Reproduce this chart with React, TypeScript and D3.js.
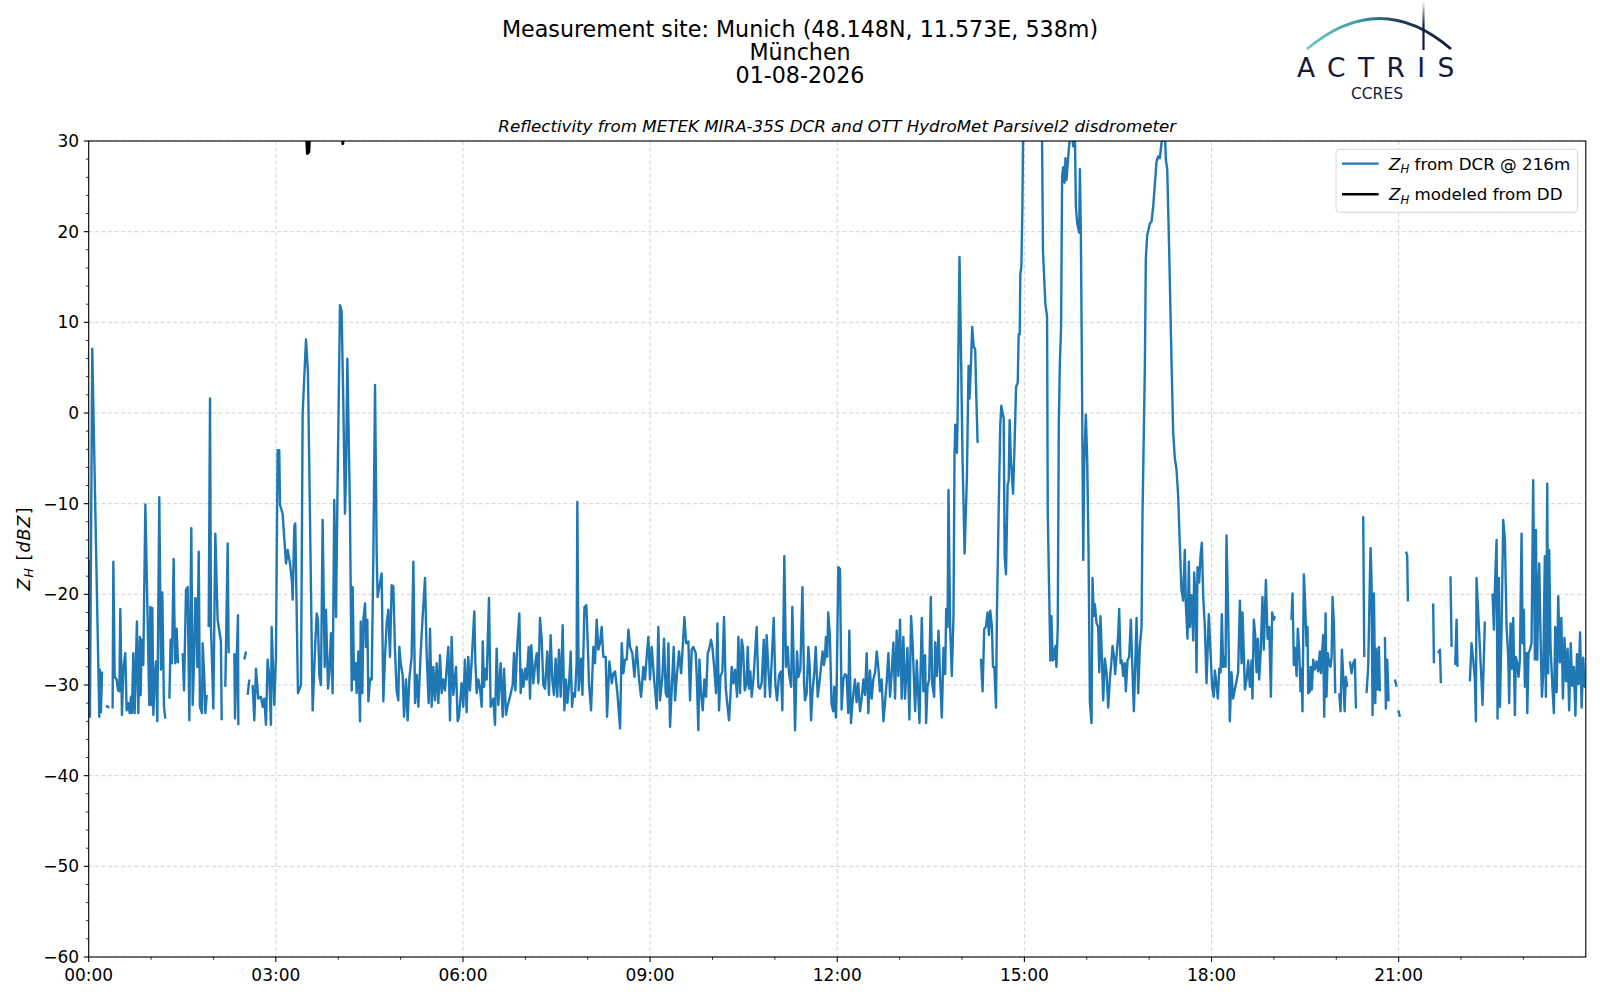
import * as d3 from "d3";
import React from "react";

// x axis: minutes since 00:00 UTC
const X_MAJOR_MIN = [0, 180, 360, 540, 720, 900, 1080, 1260];
const X_TICK_LABELS = ["00:00", "03:00", "06:00", "09:00", "12:00", "15:00", "18:00", "21:00"];
const Y_MAJOR = [-60, -50, -40, -30, -20, -10, 0, 10, 20, 30];

// Z_H from DCR @ 216m, [minute, dBZ] (null = no data)
const DCR_ZH: [number, number | null][] = [
  [0, -16.2], [1.2, -33.5], [3.4, 7.1], [10.2, -33.5], [10.6, -28.3], [11.8, -33.0], [12.8, -28.5], [13.5, null],
  [16.6, -32.3], [19.8, -32.5], [21, null],
  [23.0, -32.6], [23.7, -16.4], [25.0, -29.1], [26.9, -29.4], [28.2, -30.6], [29.5, -30.7], [30.4, -21.6], [32.0, -33.3],
  [33.3, -28.2], [35.2, -26.5], [36.5, -32.8], [38.1, -32.0], [39.4, -33.1], [40.7, -31.3], [41.6, -33.1], [42.9, -26.5],
  [44.2, -33.1], [46.4, -23.0], [47.7, -33.1], [49.3, -24.7], [50.0, -31.1], [50.9, -25.0], [52.5, -27.8], [54.5, -10.1],
  [58.3, -32.2], [59.3, -21.4], [60.6, -32.2], [61.2, -21.5], [62.2, -33.3], [63.4, -29.4], [64.7, -27.4], [66.0, -34.0],
  [67.9, -9.3], [69.5, -28.3], [70.8, -19.8], [72.4, -32.4], [73.7, -33.7], [75, null],
  [77.6, -31.5], [78.8, -25.0], [80.1, -27.6], [81.7, -16.1], [82.4, -22.3], [83.3, -27.6], [84.6, -23.8], [85.9, -27.6], [87, null],
  [90.4, -26.5], [91.7, -30.6], [93.6, -19.5], [95.2, -19.2], [96.8, -33.9], [98.7, -12.7], [100.0, -32.2], [101.3, -27.6],
  [102.6, -20.4], [103.5, -20.6], [104.5, -28.0], [105.8, -15.3], [107.0, -32.4], [109.0, -33.1], [109.6, -25.4],
  [111.2, -29.1], [112.2, -33.1], [113.5, -31.1], [114.3, null],
  [115.4, -23.6], [116.7, 1.6], [117.6, -23.6], [119.9, -32.6], [121.8, -13.3], [124.0, -22.8], [127.2, -25.2], [127.9, -33.9], [129, null],
  [131.4, -30.2], [133.7, -14.4], [134.6, -26.5], [136, null],
  [140.1, -26.5], [140.7, -33.7], [142.6, -26.1], [143.6, -22.3], [143.9, -34.4], [145, null],
  [149.7, -27.2], [151.3, -26.3], [152, null],
  [152.9, -31.1], [154.5, -29.4], [155.5, null],
  [157.7, -30.0], [159.3, -33.9], [160.9, -28.2], [163.1, -31.5], [165.7, -31.3], [167.3, -32.4], [168.9, -31.5],
  [170.5, -34.4], [172.1, -27.2], [173.7, -29.1], [175.3, -34.4], [176.0, -23.6], [178.5, -32.2], [180.1, -26.9],
  [181.7, -4.1], [183.3, -4.1], [184.0, -10.1], [186.5, -11.1], [189.8, -16.6], [191.4, -15.1], [193.6, -16.6],
  [195.5, -18.6], [196.2, -20.6], [197.8, -12.4], [198.7, -12.2], [201.3, -30.9], [204.2, -30.0], [205.8, 0.0],
  [209.0, 8.1], [210.9, 4.4], [212.8, -11.1], [215.4, -32.8], [218.0, -25.2], [219.3, -22.1], [220.5, -22.8],
  [221.8, -28.9], [223.4, -30.0], [225.0, -11.8], [227.0, -28.0], [228.2, -21.7], [230.2, -30.4], [231.4, -28.7],
  [233.0, -24.3], [234.6, -30.9], [236.2, -9.6], [237.9, -22.5], [239.2, -9.6], [241.7, 11.9], [243.3, 11.2],
  [244.9, 1.1], [246.5, -11.1], [247.5, -6.7], [248.8, 6.0], [250.7, -6.7], [251.3, -11.1], [253.0, -30.6],
  [253.9, -19.2], [255.2, -29.4], [256.8, -27.6], [257.7, -30.9], [259.4, -26.3], [261.0, -34.0], [261.6, -23.0],
  [263.2, -30.9], [264.2, -22.8], [265.8, -21.0], [266.7, -25.8], [268.0, -22.8], [269.0, -31.8], [270.6, -29.3],
  [272.2, -29.4], [273.8, -15.8], [275.4, 3.1], [277.0, -15.5], [277.9, -20.3], [279.5, -19.2], [281.8, -17.7],
  [283.4, -31.8], [285.0, -26.9], [286.6, -23.2], [288.2, -21.7], [289.8, -26.9], [291.4, -19.0], [293.0, -19.1],
  [294.6, -26.1], [296.2, -30.6], [297.8, -31.7], [298.8, -25.8], [300.1, -27.6], [302.0, -28.9], [303.3, -33.5],
  [305.2, -29.4], [306.8, -33.9], [308.4, -29.3], [310.6, -26.9], [312.3, -16.4], [313.9, -32.0], [315.5, -28.9],
  [317.1, -32.4], [319.3, -26.5], [321.2, -22.5], [323.5, -18.2], [325.1, -26.7], [327.0, -32.0], [328.3, -23.8],
  [329.9, -32.4], [331.5, -28.0], [333.1, -31.7], [334.7, -27.6], [336.3, -32.0], [337.9, -26.7], [339.5, -30.9],
  [341.1, -29.4], [342.7, -30.6], [345.9, -25.8], [347.5, -33.9], [349.1, -24.7], [350.7, -31.1], [353.3, -28.0],
  [354.9, -34.0], [356.2, -33.5], [358.7, -29.8], [360.3, -32.4], [361.9, -27.2], [363.5, -33.0], [365.1, -26.9],
  [366.7, -30.6], [369.0, -26.1], [370.9, -21.9], [371.9, -27.4], [373.2, -30.9], [374.8, -29.4], [376.4, -30.4],
  [378.0, -32.4], [379.0, -25.2], [380.2, -30.2], [381.5, -28.2], [382.8, -29.4], [385.0, -20.4], [386.6, -32.4],
  [389.2, -31.5], [390.8, -34.4], [392.4, -26.0], [394.0, -32.2], [396.2, -27.6], [398.2, -33.5], [399.5, -28.2],
  [401.4, -33.3], [402.7, -32.4], [405.2, -31.3], [407.8, -30.0], [409.1, -26.5], [410.4, -30.6], [412.3, -25.4],
  [414.2, -22.1], [415.5, -30.9], [416.8, -28.3], [418.1, -30.2], [420.0, -28.2], [421.3, -29.4], [423.2, -25.8],
  [424.5, -31.5], [425.7, -25.6], [427.7, -29.8], [429.3, -27.8], [430.9, -26.5], [432.5, -29.8], [434.1, -22.6],
  [435.7, -25.0], [437.3, -30.0], [438.9, -30.4], [441.1, -26.3], [442.7, -31.1], [444.3, -24.5], [445.9, -29.4],
  [447.5, -31.1], [449.1, -27.1], [450.7, -31.3], [452.3, -26.1], [454.0, -31.3], [455.9, -23.4], [457.5, -32.8],
  [459.1, -29.4], [460.4, -32.0], [462.0, -30.0], [463.6, -26.3], [464.9, -32.4], [466.1, -30.9], [467.7, -31.3],
  [469.3, -27.6], [470.0, -9.8], [471.3, -30.6], [473.6, -27.1], [474.9, -31.1], [476.8, -21.4], [478.7, -21.2],
  [480.0, -25.4], [481.3, -30.0], [483.2, -32.8], [485.4, -25.8], [487.0, -27.6], [488.6, -22.8], [490.2, -26.1],
  [491.8, -25.4], [493.4, -23.6], [495.0, -26.9], [497.3, -26.9], [498.6, -33.5], [500.8, -27.4], [503.1, -29.8],
  [504.7, -28.7], [506.3, -28.5], [508.5, -30.9], [511.1, -34.8], [512.7, -25.4], [514.3, -28.7], [515.9, -27.2],
  [517.5, -27.2], [519.1, -23.9], [520.7, -25.8], [522.9, -26.5], [524.9, -29.1], [527.1, -25.8], [529.4, -29.4],
  [531.3, -31.3], [533.5, -28.0], [535.1, -29.4], [536.7, -26.9], [538.3, -24.7], [539.9, -29.4], [541.5, -25.8],
  [543.8, -29.3], [546.3, -32.6], [547.9, -23.6], [549.5, -31.7], [551.8, -29.1], [553.4, -24.9], [555.0, -30.9],
  [556.3, -31.3], [557.6, -25.4], [559.2, -34.6], [560.8, -30.4], [562.7, -25.8], [564.0, -31.7], [565.6, -29.1],
  [567.8, -26.3], [569.8, -28.7], [571.0, -26.5], [573.0, -22.5], [574.6, -25.4], [576.8, -25.2], [578.4, -31.7],
  [580.0, -26.1], [581.6, -25.8], [583.9, -26.5], [585.1, -29.8], [586.4, -35.0], [587.4, -27.2], [589.0, -30.9],
  [590.6, -32.8], [592.2, -29.4], [593.8, -31.3], [595.4, -26.5], [596.7, -26.1], [598.6, -25.0], [599.9, -25.8],
  [601.8, -28.3], [603.4, -30.9], [604.7, -23.2], [606.3, -32.8], [607.6, -29.1], [609.5, -28.5], [611.1, -22.5],
  [612.7, -30.2], [613.7, -31.5], [615.9, -33.9], [617.2, -31.3], [618.5, -28.0], [620.1, -29.8], [621.7, -28.3],
  [623.6, -31.3], [624.9, -24.7], [626.5, -30.9], [628.1, -25.0], [629.4, -26.0], [631.0, -30.6], [632.6, -30.0],
  [633.9, -25.8], [635.2, -30.4], [636.4, -28.5], [637.7, -31.3], [639.6, -29.1], [640.9, -26.5], [642.5, -23.6],
  [644.1, -30.2], [645.7, -30.4], [647.3, -29.8], [649.3, -25.0], [650.5, -31.3], [652.1, -24.5], [653.7, -28.2],
  [655.4, -31.3], [657.0, -27.2], [658.9, -22.6], [660.5, -30.0], [662.1, -31.7], [664.0, -28.9], [665.9, -28.5],
  [667.2, -32.8], [669.1, -15.8], [670.7, -28.0], [672.3, -25.8], [673.6, -28.7], [675.6, -30.2], [676.8, -21.4],
  [678.1, -27.6], [679.4, -35.0], [681.3, -26.3], [682.6, -29.1], [684.5, -28.3], [686.5, -19.2], [688.1, -29.8],
  [689.0, -31.7], [690.6, -30.9], [692.2, -25.8], [693.5, -28.0], [694.8, -33.9], [696.1, -30.9], [698.0, -28.5],
  [699.3, -25.8], [701.2, -31.3], [702.8, -29.8], [705.9, -26.3], [707.1, -27.8], [708.1, -27.1], [709.1, -24.7],
  [710.4, -26.9], [711.3, -22.0], [712.9, -24.5], [714.5, -32.1], [716.1, -32.9], [717.1, -30.2], [718.7, -33.6],
  [719.4, -30.7], [721.0, -17.0], [722.6, -17.2], [724.2, -32.7], [725.8, -29.4], [727.4, -28.8], [729.0, -29.0],
  [730.6, -33.1], [731.6, -24.0], [733.2, -34.2], [734.5, -32.1], [737.0, -29.4], [738.6, -31.9], [740.2, -29.8],
  [741.9, -32.9], [743.5, -31.5], [745.1, -29.4], [746.7, -31.1], [748.3, -26.5], [749.9, -33.1], [751.5, -28.4],
  [753.1, -31.5], [754.7, -29.4], [756.4, -28.6], [758.0, -26.3], [759.6, -28.2], [761.1, -30.7], [762.7, -29.4],
  [764.4, -34.0], [766.0, -31.9], [767.6, -29.6], [769.2, -26.5], [770.8, -31.3], [772.4, -28.6], [774.0, -25.3],
  [775.6, -31.5], [777.2, -24.0], [778.8, -29.0], [780.4, -22.8], [782.0, -31.5], [783.6, -24.7], [785.2, -31.5],
  [787.5, -25.9], [789.4, -33.8], [791.0, -22.4], [792.6, -25.7], [794.9, -32.9], [796.5, -27.3], [799.1, -34.2],
  [801.3, -22.6], [802.9, -30.7], [804.5, -26.7], [805.5, -34.2], [806.8, -30.2], [808.4, -29.4], [810.0, -20.3],
  [811.3, -29.8], [813.2, -31.3], [814.2, -25.3], [815.8, -29.0], [817.4, -24.0], [819.0, -29.4], [820.6, -33.6],
  [822.2, -25.9], [823.8, -28.8], [824.8, -21.6], [826.1, -23.6], [827.0, -8.5], [828.6, -23.6], [830.2, -29.0],
  [831.8, -22.4], [832.8, -4.6], [833.5, -1.3], [835.1, -4.4], [835.7, -1.1], [837.6, 17.2], [838.9, 7.8],
  [840.5, -5.0], [842.5, -15.5], [844.7, -7.1], [846.3, 5.2], [847.3, 1.6], [848.6, 5.4], [849.8, 9.5],
  [851.1, 7.4], [852.7, 7.0], [853.7, 2.0], [855.0, -3.3], [856.5, null],
  [858.2, -27.1], [859.8, -30.7], [861.4, -23.8], [863.0, -23.6], [864.6, -22.0], [865.9, -24.5], [867.2, -21.8],
  [868.8, -23.6], [869.8, -28.0], [871.1, -28.0], [872.7, -32.5], [873.6, -22.0], [875.2, -11.2], [876.8, -1.3],
  [877.8, 0.8], [880.1, -0.6], [881.0, -15.8], [882.3, -17.8], [883.9, -7.9], [884.9, -7.5], [885.8, -0.8],
  [887.1, -5.4], [889.1, -8.9], [890.7, -2.9], [892.0, 2.9], [893.6, 3.3], [894.5, 8.7], [895.5, 8.7],
  [896.1, 15.3], [897.1, 16.1], [898.1, 22.8], [898.7, 30.0], [903, 38], [910, 40], [914, 36], [917.0, 30.0],
  [917.9, 17.8], [920.2, 12.0], [921.8, 10.7], [922.5, -11.2], [923.8, -19.5], [925.0, -27.3], [926.0, -22.4],
  [927.3, -27.3], [928.3, -26.1], [928.9, -27.1], [929.9, -25.7], [930.8, -28.0], [932.1, -23.6], [933.1, -1.3],
  [934.1, 5.4], [935.3, 9.5], [936.3, 26.1], [937.3, 27.1], [938.6, 25.4], [939.5, 28.1], [940.5, 25.7],
  [941.8, 27.7], [942.7, 29.0], [944.3, 31], [945.4, 31], [947.0, 29.4], [948.6, 31], [949.5, 22.8],
  [950.8, 20.9], [952.7, 19.9], [953.4, 26.9], [954.3, 20.1], [955.3, 5.4], [956.6, -16.2], [957.5, -6.2],
  [959.1, -0.2], [960.4, -5.0], [961.7, -15.3], [963.0, -31.9], [964.6, -34.2], [965.5, -18.2], [966.8, -22.4],
  [967.8, -21.1], [969.4, -23.2], [971.0, -23.6], [972.0, -28.6], [973.2, -22.4], [974.2, -25.7], [975.8, -31.7],
  [977.4, -27.1], [979.0, -28.6], [980.6, -32.5], [982.2, -29.4], [983.8, -27.3], [984.8, -25.7], [986.4, -27.1],
  [987.3, -28.8], [988.6, -26.9], [990.2, -24.5], [991.2, -21.6], [992.5, -27.6], [993.8, -27.3], [995.0, -29.0],
  [996.6, -27.6], [997.6, -30.7], [999.2, -27.3], [1000.8, -26.9], [1002.4, -22.8], [1004.0, -28.6], [1005.3, -32.9],
  [1007.9, -22.6], [1009.5, -30.9], [1011.1, -25.7], [1012.7, -23.6], [1013.6, -11.2], [1014.9, -2.1], [1015.9, 5.4],
  [1016.8, 17.0], [1018.1, 19.6], [1020.7, 20.9], [1022.3, 21.1], [1023.9, 22.8], [1025.5, 25.2], [1027.1, 27.7],
  [1028.7, 28.3], [1030.3, 28.1], [1031.9, 29.8], [1033.5, 30.5], [1034.8, 32], [1036.1, 27.9], [1037.4, 26.9],
  [1039.3, 17.8], [1041.5, 5.8], [1043.1, -2.1], [1044.7, -5.0], [1046.3, -6.2], [1047.9, -9.1], [1049.5, -14.5],
  [1051.1, -19.5], [1052.7, -20.7], [1054.3, -15.1], [1055.3, -21.1], [1056.9, -24.9], [1058.2, -16.4], [1059.2, -23.6],
  [1060.8, -20.1], [1062.4, -25.1], [1063.3, -17.6], [1064.6, -20.1], [1065.6, -28.6], [1066.5, -17.0], [1068.1, -18.7],
  [1069.4, -15.8], [1070.7, -14.3], [1072.0, -20.3], [1073.6, -23.6], [1075.2, -29.8], [1077.4, -22.2], [1079.0, -26.3],
  [1080.6, -30.2], [1082.2, -31.3], [1083.2, -28.4], [1084.8, -30.0], [1086.1, -31.5], [1087.4, -28.2], [1088.7, -28.6],
  [1089.9, -22.2], [1091.2, -28.0], [1092.2, -26.9], [1093.5, -28.0], [1094.4, -13.5], [1096.0, -22.2], [1097.6, -34.0],
  [1099.2, -28.6], [1100.8, -31.5], [1102.4, -30.5], [1104.0, -29.6], [1105.6, -28.6], [1107.3, -20.7], [1108.9, -27.6],
  [1109.8, -22.0], [1112.1, -30.5], [1113.7, -29.4], [1115.3, -27.3], [1116.9, -30.2], [1118.5, -27.3], [1119.4, -31.5],
  [1120.7, -22.8], [1122.0, -24.5], [1123.3, -28.6], [1124.6, -24.9], [1125.8, -29.4], [1127.4, -26.1], [1129.0, -20.3],
  [1130.3, -26.1], [1132.3, -18.4], [1133.9, -24.9], [1135.5, -23.6], [1137.1, -31.3], [1138.3, -22.0], [1140.0, -22.8],
  [1141.0, -22.4], [1142, null],
  [1156.9, -22.8], [1157.9, -19.9], [1159.2, -27.8], [1160.5, -25.9], [1161.8, -29.0], [1163.0, -23.8], [1164.3, -26.1],
  [1165.6, -30.7], [1166.6, -28.2], [1167.5, -32.9], [1168.8, -17.8], [1169.8, -20.3], [1171.4, -25.7], [1172.3, -23.6],
  [1173.0, -30.9], [1174.6, -30.7], [1175.3, -28.0], [1176.5, -30.5], [1177.8, -27.2], [1179.4, -28.3], [1181.0, -27.4],
  [1182.6, -28.5], [1184.2, -26.3], [1185.2, -28.7], [1187.4, -24.5], [1188.4, -33.5], [1189.7, -22.1], [1190.6, -31.3],
  [1191.9, -26.5], [1193.2, -27.6], [1194.5, -28.0], [1195.5, -26.9], [1196.4, -20.3], [1197.7, -23.2], [1199.0, -30.9], [1200, null],
  [1202.8, -30.9], [1204.1, -32.9], [1205.4, -26.1], [1206.7, -29.1], [1208.0, -32.9], [1209.2, -29.1], [1210.5, -30.2], [1211.5, null],
  [1213.1, -27.4], [1214.7, -28.7], [1216.3, -27.6], [1217.9, -27.2], [1218.9, -32.6], [1220, null],
  [1225.9, -11.4], [1226.9, -26.9], [1228, null],
  [1229.1, -30.9], [1230.7, -28.0], [1232.3, -18.4], [1233.0, -14.9], [1233.9, -18.4], [1234.9, -33.3], [1236.2, -19.9],
  [1237.5, -32.0], [1238.4, -26.0], [1239.7, -30.5], [1241.0, -25.8], [1241.9, -30.7], [1243, null],
  [1246.8, -24.7], [1247.7, -32.6], [1249.0, -27.2], [1250.3, -31.8], [1251.5, null],
  [1256.4, -29.4], [1258.0, -30.2], [1258.8, null],
  [1259.6, -32.8], [1261.2, -33.5], [1262, null],
  [1267.0, -15.3], [1268.2, -15.7], [1268.9, -20.8], [1270, null],
  [1293.2, -21.0], [1293.9, -27.6], [1295, null],
  [1298.0, -26.5], [1299.7, -26.1], [1300.6, -29.8], [1302, null],
  [1309.9, -18.0], [1310.9, -25.8], [1312, null],
  [1314.4, -27.8], [1315.7, -22.8], [1316.6, -28.0], [1318, null],
  [1328.5, -29.6], [1330.1, -25.4], [1331.7, -27.2], [1333.3, -29.3], [1334.3, -34.0], [1334.9, -18.2], [1339.7, -29.6],
  [1340.7, -32.2], [1342.9, -23.0], [1344, null],
  [1350.3, -19.9], [1351.6, -23.9], [1352.9, -18.0], [1354.2, -14.0], [1355.1, -33.7], [1356.4, -18.2], [1357.4, -32.4],
  [1359.0, -23.6], [1360.6, -11.8], [1362.2, -14.0], [1363.8, -23.6], [1365.4, -26.9], [1366.3, -32.0], [1367.6, -23.2],
  [1368.9, -28.2], [1370.2, -22.6], [1371.8, -33.3], [1372.7, -26.9], [1374.0, -27.6], [1375.3, -29.1], [1376.6, -27.2],
  [1378.2, -13.3], [1379.2, -25.4], [1380.4, -21.7], [1381.4, -30.2], [1383.0, -26.5], [1383.7, -33.1], [1384.9, -26.5],
  [1386.2, -26.1], [1387.8, -25.4], [1389.4, -7.4], [1391.0, -27.2], [1392.0, -12.9], [1393.3, -27.2], [1394.2, -20.3],
  [1395.2, -16.6], [1396.5, -25.0], [1397.8, -31.3], [1399.0, -28.9], [1400.6, -15.8], [1401.6, -31.3], [1402.9, -7.8],
  [1403.8, -28.7], [1404.8, -15.1], [1406.1, -25.8], [1407.1, -28.3], [1408.0, -30.5], [1409.3, -33.1], [1410.6, -23.6],
  [1412, -30.8], [1413.5, -20.2], [1415, -27.5], [1416.5, -22.6], [1418, -31.5], [1419.5, -24.8], [1421, -29.6],
  [1422.5, -26.0], [1424, -32.8], [1425.5, -25.4], [1427, -30.1], [1428.5, -28.0], [1430, -33.4], [1431.5, -26.6],
  [1433, -29.9], [1434.5, -24.2], [1436, -32.5], [1437.5, -27.0], [1439, -30.2], [1440, -29.5],
];

// Z_H modeled from DD (mostly above the plotted range)
const DD_ZH: [number, number | null][] = [
  [209.3, 31], [210.3, 28.6], [211.8, 28.8], [212.8, 31], [214, null],
  [243.3, 31], [244.4, 29.7], [245.5, 31],
];

const TITLE_LINES = ["Measurement site: Munich (48.148N, 11.573E, 538m)", "München", "01-08-2026"];
const SUBTITLE = "Reflectivity from METEK MIRA-35S DCR and OTT HydroMet Parsivel2 disdrometer";

const W = 1600;
const H = 1000;
const PLOT = { left: 88.7, right: 1585.8, top: 141, bottom: 957 };
const FONT = "'DejaVu Sans', sans-serif";
const BLUE = "#1f77b4";
const NAVY = "#141a3c";

const fmtY = (v: number) => (v < 0 ? `\u2212${Math.abs(v)}` : `${v}`);

export default function App() {
  const x = d3.scaleLinear().domain([0, 1440]).range([PLOT.left, PLOT.right]);
  const y = d3.scaleLinear().domain([-60, 30]).range([PLOT.bottom, PLOT.top]);

  const line = d3
    .line<[number, number | null]>()
    .defined((d) => d[1] !== null)
    .x((d) => x(d[0]))
    .y((d) => y(d[1] as number));

  const xMinor = d3.range(0, 1441, 60).filter((m) => m % 180 !== 0);
  const yMinor = d3.range(-60, 31, 2).filter((v) => v % 10 !== 0);

  return (
    <div style={{ position: "absolute", left: 0, top: 0 }}>
      <svg width={W} height={H} viewBox={`0 0 ${W} ${H}`} style={{ display: "block", background: "#fff" }}>
        <defs>
          <clipPath id="plot-clip">
            <rect x={PLOT.left} y={PLOT.top} width={PLOT.right - PLOT.left} height={PLOT.bottom - PLOT.top} />
          </clipPath>
          <linearGradient id="arc-grad" gradientUnits="userSpaceOnUse" x1={1307} y1={0} x2={1452} y2={0}>
            <stop offset="0" stopColor="#74c8c6" />
            <stop offset="0.35" stopColor="#3b9ea6" />
            <stop offset="0.65" stopColor="#1d3e5c" />
            <stop offset="1" stopColor={NAVY} />
          </linearGradient>
          <linearGradient id="mast-grad" gradientUnits="userSpaceOnUse" x1={0} y1={1} x2={0} y2={50}>
            <stop offset="0" stopColor="#ffffff" />
            <stop offset="0.5" stopColor={NAVY} />
            <stop offset="1" stopColor={NAVY} />
          </linearGradient>
        </defs>

        {/* titles */}
        <g fontFamily={FONT} fontSize={22.2} textAnchor="middle" fill="#000">
          {TITLE_LINES.map((t, i) => (
            <text key={t} x={800} y={36.5 + i * 23}>{t}</text>
          ))}
        </g>
        <text x={(PLOT.left + PLOT.right) / 2} y={132} fontFamily={FONT} fontSize={16.7} fontStyle="italic" textAnchor="middle">
          {SUBTITLE}
        </text>

        {/* logo */}
        <g>
          <path d="M1307,49 Q1380,-12 1451,49" fill="none" stroke="url(#arc-grad)" strokeWidth={2.8} />
          <line x1={1423.5} x2={1423.5} y1={1} y2={50} stroke="url(#mast-grad)" strokeWidth={2.2} />
          <text x={1297} y={77} fontFamily={FONT} fontSize={26.5} letterSpacing={12.4} fill={NAVY}>ACTRIS</text>
          <text x={1377} y={99} fontFamily={FONT} fontSize={15.5} textAnchor="middle" fill={NAVY}>CCRES</text>
        </g>

        {/* grid */}
        <g stroke="#cfcfcf" strokeWidth={0.9} strokeDasharray="4,2.5">
          {X_MAJOR_MIN.map((m) => (
            <line key={`gx${m}`} x1={x(m)} x2={x(m)} y1={PLOT.top} y2={PLOT.bottom} />
          ))}
          {Y_MAJOR.map((v) => (
            <line key={`gy${v}`} x1={PLOT.left} x2={PLOT.right} y1={y(v)} y2={y(v)} />
          ))}
        </g>

        {/* data */}
        <g clipPath="url(#plot-clip)" fill="none" strokeLinejoin="round" strokeLinecap="butt">
          <path d={line(DCR_ZH) ?? ""} stroke={BLUE} strokeWidth={2.4} />
          <path d={line(DD_ZH) ?? ""} stroke="#000" strokeWidth={2.8} />
        </g>

        {/* spines */}
        <rect x={PLOT.left} y={PLOT.top} width={PLOT.right - PLOT.left} height={PLOT.bottom - PLOT.top} fill="none" stroke="#000" strokeWidth={1.1} />

        {/* ticks */}
        <g stroke="#000" strokeWidth={1.1}>
          {X_MAJOR_MIN.map((m) => (
            <line key={`tx${m}`} x1={x(m)} x2={x(m)} y1={PLOT.bottom} y2={PLOT.bottom + 4.9} />
          ))}
          {xMinor.map((m) => (
            <line key={`mx${m}`} x1={x(m)} x2={x(m)} y1={PLOT.bottom} y2={PLOT.bottom + 2.8} strokeWidth={0.8} />
          ))}
          {Y_MAJOR.map((v) => (
            <line key={`ty${v}`} x1={PLOT.left - 4.9} x2={PLOT.left} y1={y(v)} y2={y(v)} />
          ))}
          {yMinor.map((v) => (
            <line key={`my${v}`} x1={PLOT.left - 2.8} x2={PLOT.left} y1={y(v)} y2={y(v)} strokeWidth={0.8} />
          ))}
        </g>
        <g fontFamily={FONT} fontSize={17} fill="#000">
          {X_MAJOR_MIN.map((m, i) => (
            <text key={`lx${m}`} x={x(m)} y={PLOT.bottom + 23.5} textAnchor="middle">{X_TICK_LABELS[i]}</text>
          ))}
          {Y_MAJOR.map((v) => (
            <text key={`ly${v}`} x={PLOT.left - 9.5} y={y(v)} dy="0.36em" textAnchor="end">{fmtY(v)}</text>
          ))}
        </g>

        {/* y label */}
        <text
          transform={`translate(29.5,${(PLOT.top + PLOT.bottom) / 2}) rotate(-90)`}
          fontFamily={FONT}
          fontSize={17.5}
          textAnchor="middle"
          textLength={83}
          lengthAdjust="spacing"
        >
          <tspan fontStyle="italic">Z</tspan>
          <tspan fontStyle="italic" fontSize={12.3} dy={3.5}>H</tspan>
          <tspan dy={-3.5}> [</tspan>
          <tspan fontStyle="italic">dBZ</tspan>
          <tspan>]</tspan>
        </text>

        {/* legend */}
        <g fontFamily={FONT} fontSize={16.7}>
          <rect x={1336} y={149.3} width={241.5} height={63} rx={3.5} fill="#fff" fillOpacity={0.8} stroke="#d6d6d6" strokeWidth={1} />
          <line x1={1342} x2={1378.6} y1={163.6} y2={163.6} stroke={BLUE} strokeWidth={2.4} />
          <line x1={1342} x2={1378.6} y1={194.2} y2={194.2} stroke="#000" strokeWidth={2.4} />
          <text x={1389} y={169.5}>
            <tspan fontStyle="italic">Z</tspan>
            <tspan fontStyle="italic" fontSize={11.7} dy={3.5}>H</tspan>
            <tspan dy={-3.5}> from DCR @ 216m</tspan>
          </text>
          <text x={1389} y={200}>
            <tspan fontStyle="italic">Z</tspan>
            <tspan fontStyle="italic" fontSize={11.7} dy={3.5}>H</tspan>
            <tspan dy={-3.5}> modeled from DD</tspan>
          </text>
        </g>
      </svg>
    </div>
  );
}
